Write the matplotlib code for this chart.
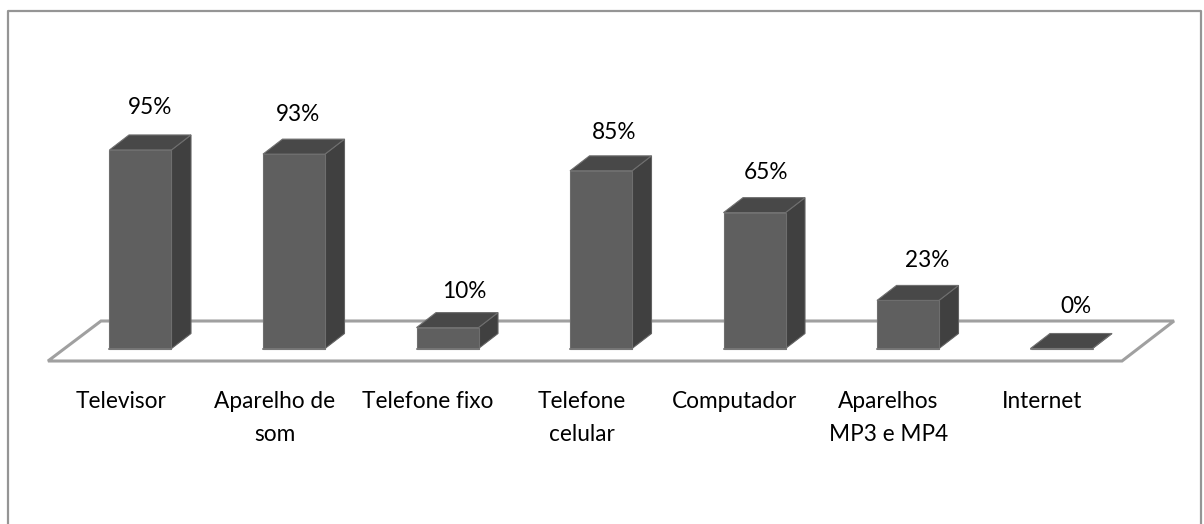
import matplotlib
matplotlib.use("Agg")
import matplotlib.pyplot as plt
from matplotlib.patches import Polygon

categories = ["Televisor", "Aparelho de\nsom", "Telefone fixo", "Telefone\ncelular",
              "Computador", "Aparelhos\nMP3 e MP4", "Internet"]
values = [95, 93, 10, 85, 65, 23, 0]
labels = ["95%", "93%", "10%", "85%", "65%", "23%", "0%"]

# the value labels sit a bit differently over each bar (pixels)
label_dx = [9.5, 4, 16.5, 13, 11.5, 19, 14.5]
label_dy = [42, 40, 36, 38, 40, 40, 42]

W, H = 1204, 524
px_x = 153.5   # pixels per category
px_y = 2.09    # pixels per percent
x0, y0 = 140.5, 348.5   # pixel position of first bar centre / baseline

plt.rcParams['font.family'] = ['Lato', 'DejaVu Sans']
fig = plt.figure(figsize=(W / 100, H / 100), dpi=100)
ax = fig.add_axes([0, 0, 1, 1])
ax.set_xlim(-x0 / px_x, (W - x0) / px_x)
ax.set_ylim((y0 - H) / px_y, y0 / px_y)
ax.axis('off')

# depth of the fake 3d, in data units
dx = 19.5 / px_x
dy = 15 / px_y
half = 31 / px_x

# outer frame, open at the bottom
ax.plot([8 / W, 8 / W, 1201 / W, 1201 / W], [0, 1 - 11 / H, 1 - 11 / H, 0],
        transform=ax.transAxes, color='#959595', lw=1.6, clip_on=False)

# floor
fl, fr = -92.5 / px_x, 981.5 / px_x
fy = -12.5 / px_y
by = 27.5 / px_y
ax.add_patch(Polygon([(fl, fy), (fr, fy), (fr + 52 / px_x, by), (fl + 53 / px_x, by)],
                     closed=True, fc='white', ec='#a0a0a0', lw=2.2, zorder=1))

for i, v in enumerate(values):
    l, r = i - half, i + half
    ax.add_patch(Polygon([(r, 0), (r + dx, dy), (r + dx, v + dy), (r, v)],
                         fc='#404040', ec='#626262', lw=0.8, zorder=3))
    ax.add_patch(Polygon([(l, v), (r, v), (r + dx, v + dy), (l + dx, v + dy)],
                         fc='#484848', ec='#6f6f6f', lw=0.8, zorder=3))
    ax.add_patch(Polygon([(l, 0), (r, 0), (r, v), (l, v)],
                         fc='#5f5f5f', ec='#6e6e6e', lw=0.8, zorder=4))
    ax.plot([l, r], [0, 0], color='#7a7a7a', lw=1.2, zorder=5)
    ax.text(i + label_dx[i] / px_x, v + label_dy[i] / px_y, labels[i], ha='center', va='center',
            fontsize=16.3, color='black', zorder=6)
    ax.text(i - 19.5 / px_x, -42 / px_y, categories[i], ha='center', va='top',
            fontsize=16.3, color='black', linespacing=1.75, zorder=6)

fig.savefig("out.png", dpi=100)
